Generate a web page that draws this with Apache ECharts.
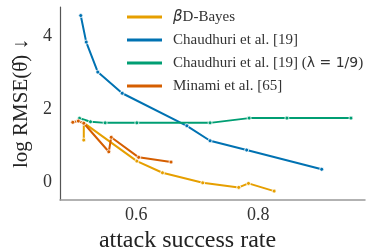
<!DOCTYPE html>
<html>
<head>
<meta charset="utf-8">
<script src="https://cdn.jsdelivr.net/npm/echarts@6/dist/echarts.min.js"></script>
<style>
  html, body { margin: 0; padding: 0; background: #fff; }
  #chart { width: 371px; height: 251px; }
</style>
</head>
<body>
<div id="chart"></div>
<script>
// 数据: [attack success rate, log RMSE]
var bdBayes = [[0.514, 1.15], [0.514, 1.62], [0.601, 0.575], [0.643, 0.255], [0.709, -0.02],
               [0.768, -0.145], [0.784, -0.036], [0.826, -0.247]];
var chaudhuri = [[0.509, 4.556], [0.518, 3.83], [0.537, 3.01], [0.577, 2.43], [0.683, 1.54],
                 [0.721, 1.13], [0.781, 0.877], [0.904, 0.35]];
var chaudhuriLam = [[0.507, 1.745], [0.525, 1.65], [0.549, 1.62], [0.601, 1.62], [0.721, 1.62],
                    [0.785, 1.75], [0.847, 1.75], [0.952, 1.75]];
var minami = [[0.496, 1.636], [0.505, 1.67], [0.514, 1.61], [0.555, 0.83], [0.559, 1.225],
              [0.604, 0.677], [0.657, 0.548]];
var xTicks = [0.6, 0.8];
var yTicks = [0, 2, 4];

var serif = "'Liberation Serif', 'DejaVu Serif', serif";

var myChart = echarts.init(document.getElementById('chart'));

function mkSeries(name, data, color) {
    return {
        name: name,
        type: 'line',
        data: data,
        symbol: 'circle',
        symbolSize: 4,
        lineStyle: { width: 2, color: color },
        itemStyle: { color: color, borderColor: '#fff', borderWidth: 0.8 },
        emphasis: { disabled: true },
        animation: false
    };
}

var option = {
    animation: false,
    grid: { left: 60, right: 6, top: 7, bottom: 51, outerBoundsMode: 'none', containLabel: false },
    legend: {
        orient: 'vertical',
        left: 122,
        top: 4,
        icon: 'rect',
        itemWidth: 35,
        itemHeight: 3,
        itemGap: 7,
        itemStyle: { borderWidth: 0 },
        textStyle: {
            fontFamily: serif, fontSize: 15, color: '#333', lineHeight: 16,
            padding: [0, 0, 0, 6],
            rich: {
                b: { fontFamily: "'DejaVu Sans', sans-serif", fontStyle: 'italic', fontSize: 15, color: '#333' },
                m: { fontFamily: "'DejaVu Sans', sans-serif", fontSize: 14, color: '#333' }
            }
        },
        formatter: function (name) {
            if (name === 'bd') return '{b|β}D-Bayes';
            if (name === 'ch') return 'Chaudhuri et al. [19]';
            if (name === 'chl') return 'Chaudhuri et al. [19] ({m|λ = 1/9})';
            return 'Minami et al. [65]';
        }
    },
    xAxis: {
        type: 'value',
        min: 0.475,
        max: 0.975,
        name: 'attack success rate',
        nameLocation: 'middle',
        nameGap: 28,
        nameTextStyle: { fontFamily: serif, fontSize: 24, color: '#222', padding: [0, 50, 0, 0] },
        axisLine: { show: true, onZero: false, lineStyle: { color: '#999', width: 1.5 } },
        axisTick: { show: false },
        splitLine: { show: false },
        axisLabel: {
            customValues: xTicks,
            fontFamily: serif, fontSize: 18, color: '#333', margin: 6
        }
    },
    yAxis: {
        type: 'value',
        min: -0.49,
        max: 4.79,
        name: 'log RMSE(θ̂) ↓',
        nameLocation: 'middle',
        nameGap: 22,
        nameRotate: 90,
        nameTextStyle: { fontFamily: serif, fontSize: 21, color: '#222' },
        axisLine: { show: true, onZero: false, lineStyle: { color: '#555', width: 1.2 } },
        axisTick: { show: false },
        splitLine: { show: false },
        axisLabel: {
            customValues: yTicks,
            fontFamily: serif, fontSize: 18, color: '#333', margin: 8
        }
    },
    series: [
        mkSeries('bd', bdBayes, '#E69F00'),
        mkSeries('ch', chaudhuri, '#0072B2'),
        mkSeries('chl', chaudhuriLam, '#009E73'),
        mkSeries('mi', minami, '#D55E00')
    ]
};
myChart.setOption(option);
</script>
</body>
</html>
